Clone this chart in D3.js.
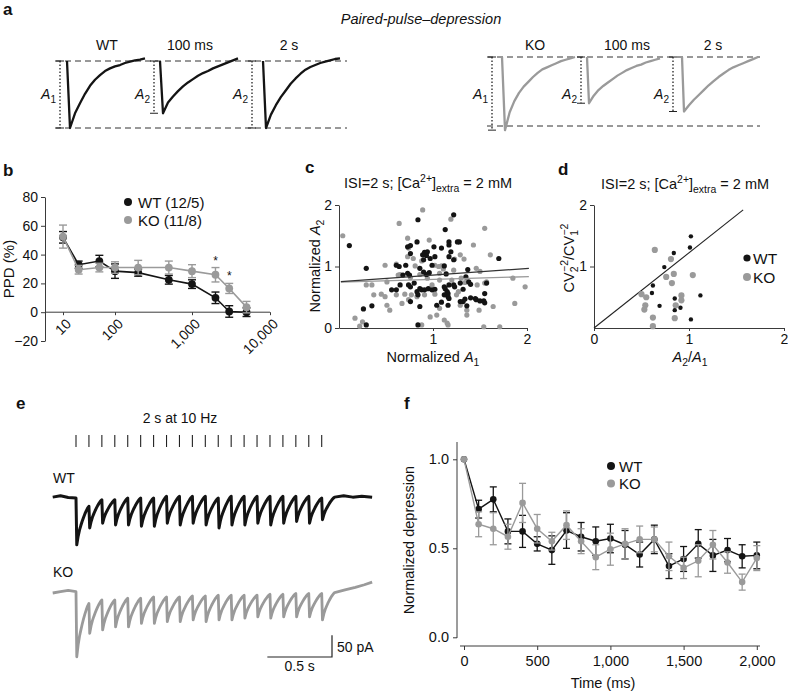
<!DOCTYPE html>
<html>
<head>
<meta charset="utf-8">
<script src="https://cdn.jsdelivr.net/npm/d3@7/dist/d3.min.js"></script>
<style>
  html,body{margin:0;padding:0;background:#fff;}
  svg{display:block;}
</style>
</head>
<body>
<svg id="fig" width="788" height="694"></svg>
<script>
// ================= DATA =================
// (a) paired-pulse EPSC traces, amplitude normalised to A1 (0 = baseline, -1 = A1 peak)
const aWT_A1    = [-1.0,-0.78,-0.63,-0.49,-0.37,-0.28,-0.21,-0.15,-0.11,-0.08,-0.06,-0.03,-0.01,0.01,0.02,0.04];
const aWT_A2100 = [-0.78,-0.62,-0.53,-0.45,-0.38,-0.32,-0.27,-0.22,-0.18,-0.15,-0.11,-0.08,-0.05,-0.02,0.01,0.04];
const aWT_A22s  = [-1.0,-0.80,-0.66,-0.54,-0.44,-0.34,-0.26,-0.19,-0.13,-0.09,-0.06,-0.03,-0.01,0.01,0.03,0.04];
const aKO_A1    = [-1.06,-0.80,-0.64,-0.52,-0.43,-0.36,-0.29,-0.23,-0.18,-0.15,-0.12,-0.09,-0.06,-0.04,-0.02,0.0];
const aKO_A2100 = [-0.67,-0.56,-0.48,-0.42,-0.37,-0.32,-0.27,-0.23,-0.19,-0.16,-0.13,-0.11,-0.08,-0.06,-0.04,-0.02];
const aKO_A22s  = [-0.79,-0.70,-0.62,-0.55,-0.48,-0.41,-0.35,-0.29,-0.24,-0.19,-0.15,-0.12,-0.09,-0.06,-0.03,0.0];
const aHeadWT = ["WT","100 ms","2 s"];
const aHeadKO = ["KO","100 ms","2 s"];

// (b) paired-pulse depression vs inter-stimulus interval
const ppdISI    = [10,20,50,100,200,500,1000,2000,3000,5000];
const ppdWT     = [52,33,35.5,28.5,27.5,22.5,19.5,10,0.5,0];
const ppdWTerr  = [4,2.5,4,5,2.5,3,3,4,4,3];
const ppdKO     = [52.5,29.5,31,31,31,31,28.5,26,16.5,3.5];
const ppdKOerr  = [8,3,3,4,5,4.5,4.5,5,3.5,4];
const ppdXTicks = [10,100,1000,10000];
const ppdYTicks = [-20,0,20,40,60,80];
const ppdStars  = [2000,3000];

// (c) normalized A2 vs normalized A1
const cWT = [[0.11,1.34],[0.84,1.76],[1.22,1.84],[1.13,1.60],[0.29,0.97],[0.26,0.31],[0.35,0.36],[0.29,0.05],[0.84,0.05],[0.61,1.02],
[0.64,1.00],[0.71,1.02],[0.73,0.89],[0.68,0.86],[0.75,0.86],[0.73,1.32],[0.76,1.34],[0.76,1.21],[0.83,1.40],[0.89,1.19],
[0.91,1.23],[0.93,1.18],[0.90,1.11],[0.94,1.24],[0.97,1.13],[1.01,1.32],[1.02,1.16],[0.99,1.02],[0.86,0.97],[0.90,0.91],
[0.93,0.87],[0.96,0.90],[1.12,1.01],[1.14,0.88],[1.09,1.30],[1.19,1.24],[1.17,1.35],[1.17,1.40],[1.17,1.16],[1.22,1.11],
[1.26,1.40],[1.28,1.40],[1.37,0.95],[1.35,0.83],[0.56,0.62],[0.65,0.70],[0.74,0.70],[0.76,0.67],[0.80,0.73],[0.83,0.59],
[0.84,0.54],[0.86,0.64],[0.88,0.62],[0.91,0.62],[0.95,0.64],[0.99,0.62],[1.02,0.63],[1.04,0.37],[1.09,0.42],[1.12,0.67],
[1.13,0.64],[1.15,0.59],[1.16,0.56],[1.16,0.51],[1.17,0.48],[1.12,0.54],[1.17,0.70],[1.22,0.70],[1.23,0.67],[1.29,0.73],
[1.32,0.63],[1.32,0.43],[1.34,0.47],[1.36,0.36],[1.40,0.49],[1.45,0.48],[1.46,0.46],[1.50,0.44],[1.54,0.44],[1.55,0.41],
[1.55,0.56],[1.57,0.73],[1.38,0.75],[1.40,0.71],[1.70,1.13],[0.61,0.62],[0.76,0.43],[0.86,0.35],[1.16,0.37],[1.29,0.43]];
const cKO = [[0.04,1.50],[0.17,0.16],[0.25,0.10],[0.22,0.03],[0.29,0.70],[0.35,0.70],[0.49,1.02],[0.51,0.37],[0.54,0.29],[0.64,1.70],
[0.70,0.55],[0.74,0.46],[0.76,0.82],[0.73,1.46],[0.74,1.30],[0.73,1.16],[0.79,1.13],[0.83,0.51],[0.89,1.92],[0.86,0.87],
[0.94,0.81],[0.96,1.43],[0.99,0.70],[1.02,0.55],[1.04,0.21],[1.12,0.13],[1.16,0.05],[1.19,1.77],[1.22,0.94],[1.20,0.78],
[1.07,0.78],[1.09,1.01],[1.07,0.89],[1.11,0.96],[1.25,0.54],[1.27,0.59],[1.30,0.81],[1.33,1.12],[1.34,0.74],[1.36,0.21],
[1.43,1.35],[1.47,0.70],[1.50,0.92],[1.49,0.29],[1.54,0.02],[1.55,0.73],[1.55,1.62],[1.61,1.19],[1.64,0.35],[1.71,0.02],
[1.85,0.81],[1.87,0.40],[0.81,1.01],[0.88,1.09],[1.02,1.02],[1.06,1.00],[1.29,1.19],[1.23,1.12],[0.63,0.86],[0.61,0.54],
[0.67,0.40],[0.77,0.54],[0.91,0.54],[0.88,0.05],[0.97,0.18],[1.07,0.32],[1.15,0.08],[1.36,0.29],[1.57,0.75],[0.61,1.04],
[0.65,0.87],[0.49,0.51],[1.46,0.97],[1.29,0.37],[1.98,0.67],[0.51,0.75],[0.37,0.54],[0.45,0.55]];
const cFitWT = [[0.02,0.755],[2.02,0.97]];
const cFitKO = [[0.02,0.745],[2.02,0.835]];
const cTicks = [0,1,2];

// (d) CV analysis
const dWT = [[1.02,1.49],[1.01,1.31],[0.84,1.22],[0.74,0.99],[0.62,0.69],[0.61,0.57],[1.12,0.53],[0.85,0.48],[0.69,0.36],[0.85,0.29],[0.91,0.33],[1.02,0.14]];
const dKO = [[0.64,1.27],[0.81,1.12],[0.76,0.83],[0.84,0.88],[0.82,0.73],[1.04,0.86],[0.50,0.55],[0.55,0.50],[0.54,0.37],[0.53,0.30],[0.92,0.53],[0.92,0.45],[0.86,0.37],[0.62,0.17],[0.85,0.16],[0.62,0.03]];
const dLine = [[0,0],[1.57,1.92]];

// (e) 2 s at 10 Hz train (time in s, current in pA)
const eStimS   = [0,0.1,0.2,0.3,0.4,0.5,0.6,0.7,0.8,0.9,1.0,1.1,1.2,1.3,1.4,1.5,1.6,1.7,1.8,1.9];
const eWTtop   = [0,-19,-4,-4,0,0,0,4,4,4,4,0,4,4,4,4,4,4,4,0];
const eWTpeak  = [-108,-69,-58,-62,-62,-65,-65,-58,-62,-58,-62,-69,-62,-62,-58,-62,-58,-54,-58,-50];
const eKOtop   = [0,-27,-19,-19,-15,-15,-12,-12,-12,-10,-10,-8,-8,-8,-8,-6,-6,-4,-4,-4];
const eKOpeak  = [-150,-96,-88,-81,-81,-73,-73,-69,-69,-65,-69,-65,-65,-61,-58,-61,-58,-58,-58,-65];
const eWTpre   = [[-0.18,2],[-0.12,5],[-0.06,1],[0,0]];
const eWTpost  = [[2.0,2],[2.07,5],[2.14,2],[2.21,4],[2.29,2]];
const eKOpre   = [[-0.18,-3],[-0.12,0],[-0.06,3],[0,0]];
const eKOpost  = [[2.0,-2],[2.08,4],[2.16,10],[2.23,16],[2.29,22]];
const eShape   = [1.0,0.78,0.62,0.5,0.39,0.29,0.2,0.12,0.05,0];  // EPSC recovery shape
const eBarS = 0.5, eBarPA = 50;

// (f) normalized depression during train
const fTime  = [0,100,200,300,400,500,600,700,800,900,1000,1100,1200,1300,1400,1500,1600,1700,1800,1900,2000];
const fWT    = [1.0,0.72,0.775,0.595,0.595,0.525,0.49,0.60,0.565,0.54,0.555,0.52,0.465,0.55,0.40,0.44,0.525,0.46,0.49,0.455,0.46];
const fWTerr = [0,0.05,0.07,0.07,0.09,0.04,0.08,0.10,0.08,0.08,0.08,0.08,0.07,0.08,0.07,0.07,0.08,0.09,0.065,0.065,0.075];
const fKO    = [1.0,0.635,0.61,0.565,0.755,0.61,0.54,0.63,0.54,0.45,0.495,0.525,0.55,0.55,0.455,0.39,0.43,0.52,0.42,0.31,0.445];
const fKOerr = [0,0.07,0.09,0.07,0.11,0.08,0.05,0.08,0.07,0.07,0.09,0.085,0.075,0.07,0.08,0.06,0.09,0.08,0.06,0.045,0.07];
const fXTicks = [0,500,1000,1500,2000];
const fYTicks = [0,0.5,1.0];

// ================= DRAWING =================
const svg = d3.select("#fig");
const FONT = '"Liberation Sans", Arial, Helvetica, sans-serif';
svg.attr("font-family", FONT);
const BLACK = "#141414", GRAY = "#9a9a9a", INK = "#111", AX = "#3a3a3a";

function text(g, x, y, s, o = {}) {
  const t = g.append("text").attr("x", x).attr("y", y).text(s)
    .attr("font-size", o.size || 14).attr("fill", o.fill || INK)
    .attr("text-anchor", o.anchor || "start");
  if (o.weight) t.attr("font-weight", o.weight);
  if (o.style) t.attr("font-style", o.style);
  if (o.transform) t.attr("transform", o.transform);
  return t;
}
function rich(g, x, y, parts, o = {}) {
  const size = o.size || 14;
  const t = g.append("text").attr("x", x).attr("y", y).attr("font-size", size)
    .attr("fill", INK).attr("text-anchor", o.anchor || "start");
  if (o.transform) t.attr("transform", o.transform);
  let shift = 0;
  parts.forEach(p => {
    const [s, type, dx] = p;
    const ts = t.append("tspan").text(s);
    let target = 0, fs = size;
    if (type === "sub") { target = size * 0.3; fs = size * 0.72; }
    else if (type === "sup") { target = -size * 0.42; fs = size * 0.72; }
    ts.attr("dy", target - shift).attr("font-size", fs);
    if (type === "i") ts.attr("font-style", "italic");
    if (dx) ts.attr("dx", dx);
    shift = target;
  });
  return t;
}
function styleAxis(g, size = 14) {
  g.attr("font-family", FONT).attr("font-size", size);
  g.selectAll("path.domain").attr("stroke", AX);
  g.selectAll(".tick line").attr("stroke", AX);
  g.selectAll(".tick text").attr("fill", INK);
}

// panel letters
[["a",3,15],["b",3,176],["c",305,173],["d",558,175],["e",16,409],["f",404,409]].forEach(([l,x,y]) =>
  text(svg, x, y, l, {size: 17, weight: "bold"}));

// ---------- (a) ----------
const gA = svg.append("g");
text(gA, 421, 24, "Paired-pulse\u2013depression", {size: 14.5, style: "italic", anchor: "middle"});
const aLayout = [
  {color: BLACK, yTop: 61, yBot: 128, xL: 55, xR: 347, heads: [107,190,289], headTexts: aHeadWT,
   traces: [{vals: aWT_A1, on: 67, x0: 70, x1: 145, dot: 60, lab: "1"},
            {vals: aWT_A2100, on: 160, x0: 163, x1: 238, dot: 154, lab: "2"},
            {vals: aWT_A22s, on: 263, x0: 266, x1: 340, dot: 252, lab: "2"}]},
  {color: GRAY, yTop: 57, yBot: 126, xL: 487, xR: 760, heads: [535,627,713], headTexts: aHeadKO,
   traces: [{vals: aKO_A1, on: 502, x0: 505, x1: 575, dot: 492, lab: "1"},
            {vals: aKO_A2100, on: 587, x0: 589, x1: 660, dot: 581, lab: "2"},
            {vals: aKO_A22s, on: 682, x0: 684, x1: 758, dot: 673, lab: "2"}]}
];
aLayout.forEach(G => {
  const y = d3.scaleLinear().domain([0, -1]).range([G.yTop, G.yBot]);
  [0, -1].forEach(v => gA.append("line").attr("x1", G.xL).attr("x2", G.xR).attr("y1", y(v)).attr("y2", y(v))
    .attr("stroke", "#333").attr("stroke-width", 1).attr("stroke-dasharray", "6,4"));
  G.traces.forEach(T => {
    const x = d3.scaleLinear().domain([0, T.vals.length - 1]).range([T.x0, T.x1]);
    const pts = [[T.on, y(0)]].concat(T.vals.map((v, i) => [x(i), y(v)]));
    gA.append("path").attr("d", d3.line()(pts)).attr("fill", "none").attr("stroke", G.color)
      .attr("stroke-width", 2.3).attr("stroke-linejoin", "round");
    const yp = y(T.vals[0]);
    gA.append("line").attr("x1", T.dot).attr("x2", T.dot).attr("y1", y(0)).attr("y2", yp)
      .attr("stroke", "#222").attr("stroke-width", 1.3).attr("stroke-dasharray", "1.5,2");
    [y(0), yp].forEach(yy => gA.append("line").attr("x1", T.dot - 4).attr("x2", T.dot + 4)
      .attr("y1", yy).attr("y2", yy).attr("stroke", "#222").attr("stroke-width", 1));
    rich(gA, T.dot - 4, 99, [["A", "i"], [T.lab, "sub"]], {anchor: "end", size: 14});
  });
  G.heads.forEach((hx, i) => text(gA, hx, 50, G.headTexts[i], {anchor: "middle"}));
});

// ---------- (b) ----------
const gB = svg.append("g");
const xB = d3.scaleLog().domain(ppdXTicks).range([63, 115, 192, 270]);
const yB = d3.scaleLinear().domain([-20, 80]).range([341, 197]);
const ayB = gB.append("g").attr("transform", "translate(45,0)")
  .call(d3.axisLeft(yB).tickValues(ppdYTicks).tickSize(4).tickSizeOuter(0).tickPadding(3)
    .tickFormat(d => d < 0 ? "\u2212" + (-d) : String(d)));
styleAxis(ayB);
gB.append("line").attr("x1", 45).attr("x2", 270).attr("y1", yB(0)).attr("y2", yB(0)).attr("stroke", AX);
const axB = gB.append("g").attr("transform", `translate(0,${yB(0)})`)
  .call(d3.axisBottom(xB).tickValues(ppdXTicks).tickSize(3).tickFormat(d3.format(",")));
axB.select("path.domain").remove();
styleAxis(axB);
axB.selectAll(".tick text").attr("x", 0).attr("y", 0).attr("dy", "0.35em").attr("text-anchor", "end")
  .attr("transform", "translate(5,9) rotate(-45)");
text(gB, 0, 0, "PPD (%)", {anchor: "middle", size: 15, transform: "translate(14,269) rotate(-90)"});

function seriesB(vals, errs, color) {
  const pts = ppdISI.map((t, i) => [xB(t), yB(vals[i])]);
  gB.append("path").attr("d", d3.line()(pts)).attr("fill", "none").attr("stroke", color).attr("stroke-width", 1.6);
  ppdISI.forEach((t, i) => {
    const x = xB(t), y1 = yB(vals[i] + errs[i]), y2 = yB(vals[i] - errs[i]);
    gB.append("line").attr("x1", x).attr("x2", x).attr("y1", y1).attr("y2", y2).attr("stroke", color).attr("stroke-width", 1.4);
    [y1, y2].forEach(yy => gB.append("line").attr("x1", x - 4).attr("x2", x + 4).attr("y1", yy).attr("y2", yy)
      .attr("stroke", color).attr("stroke-width", 1.4));
  });
  gB.selectAll(null).data(pts).enter().append("circle").attr("cx", d => d[0]).attr("cy", d => d[1])
    .attr("r", 3.9).attr("fill", color);
}
seriesB(ppdWT, ppdWTerr, BLACK);
seriesB(ppdKO, ppdKOerr, GRAY);
ppdStars.forEach(t => {
  const i = ppdISI.indexOf(t);
  text(gB, xB(t), yB(ppdKO[i] + ppdKOerr[i]) - 3, "*", {anchor: "middle", size: 12});
});
gB.append("circle").attr("cx", 128).attr("cy", 202).attr("r", 4).attr("fill", BLACK);
text(gB, 138, 207.5, "WT (12/5)", {size: 15});
gB.append("circle").attr("cx", 128).attr("cy", 220).attr("r", 4).attr("fill", GRAY);
text(gB, 138, 225.5, "KO (11/8)", {size: 15});

// ---------- (c) ----------
const gC = svg.append("g");
const xC = d3.scaleLinear().domain([0, 2]).range([339, 527]);
const yC = d3.scaleLinear().domain([0, 2]).range([328, 205]);
const ayC = gC.append("g").attr("transform", "translate(339,0)")
  .call(d3.axisLeft(yC).tickValues(cTicks).tickSize(4).tickSizeOuter(0).tickPadding(3).tickFormat(d3.format("d")));
styleAxis(ayC);
const axC = gC.append("g").attr("transform", "translate(0,328)")
  .call(d3.axisBottom(xC).tickValues([1, 2]).tickSize(3).tickSizeOuter(0).tickPadding(3).tickFormat(d3.format("d")));
styleAxis(axC);
rich(gC, 428, 188, [["ISI=2 s; [Ca", "n"], ["2+", "sup"], ["]", "n"], ["extra", "sub"], [" = 2 mM", "n"]], {anchor: "middle", size: 14.5});
rich(gC, 0, 0, [["Normalized ", "n"], ["A", "i"], ["2", "sub"]], {anchor: "middle", size: 14.5, transform: "translate(320,266) rotate(-90)"});
rich(gC, 433, 362, [["Normalized ", "n"], ["A", "i"], ["1", "sub"]], {anchor: "middle", size: 14.5});
gC.selectAll(null).data(cKO).enter().append("circle").attr("cx", d => xC(d[0])).attr("cy", d => yC(d[1])).attr("r", 2.6).attr("fill", GRAY);
gC.selectAll(null).data(cWT).enter().append("circle").attr("cx", d => xC(d[0])).attr("cy", d => yC(d[1])).attr("r", 2.6).attr("fill", BLACK);
const lineC = d3.line().x(d => xC(d[0])).y(d => yC(d[1]));
gC.append("path").attr("d", lineC(cFitKO)).attr("stroke", GRAY).attr("stroke-width", 1.3).attr("fill", "none");
gC.append("path").attr("d", lineC(cFitWT)).attr("stroke", "#333").attr("stroke-width", 1.3).attr("fill", "none");

// ---------- (d) ----------
const gD = svg.append("g");
const xD = d3.scaleLinear().domain([0, 2]).range([594, 784]);
const yD = d3.scaleLinear().domain([0, 2]).range([328, 205]);
const ayD = gD.append("g").attr("transform", "translate(594,0)")
  .call(d3.axisLeft(yD).tickValues([1, 2]).tickSize(4).tickSizeOuter(0).tickPadding(3).tickFormat(d3.format("d")));
styleAxis(ayD);
const axD = gD.append("g").attr("transform", "translate(0,328)")
  .call(d3.axisBottom(xD).tickValues([0, 1, 2]).tickSize(3).tickSizeOuter(0).tickPadding(3).tickFormat(d3.format("d")));
styleAxis(axD);
rich(gD, 685, 189, [["ISI=2 s; [Ca", "n"], ["2+", "sup"], ["]", "n"], ["extra", "sub"], [" = 2 mM", "n"]], {anchor: "middle", size: 14.5});
rich(gD, 0, 0, [["CV", "n"], ["2", "sub"], ["\u22122", "sup", -5.5], ["/CV", "n"], ["1", "sub"], ["\u22122", "sup", -5.5]],
  {anchor: "middle", size: 14.5, transform: "translate(574,258) rotate(-90)"});
rich(gD, 690, 362, [["A", "i"], ["2", "sub"], ["/", "n"], ["A", "i"], ["1", "sub"]], {anchor: "middle", size: 14.5});
const lineD = d3.line().x(d => xD(d[0])).y(d => yD(d[1]));
gD.append("path").attr("d", lineD(dLine)).attr("stroke", "#222").attr("stroke-width", 1.1).attr("fill", "none");
gD.selectAll(null).data(dKO).enter().append("circle").attr("cx", d => xD(d[0])).attr("cy", d => yD(d[1])).attr("r", 3.1).attr("fill", GRAY);
gD.selectAll(null).data(dWT).enter().append("circle").attr("cx", d => xD(d[0])).attr("cy", d => yD(d[1])).attr("r", 2.2).attr("fill", BLACK);
gD.append("circle").attr("cx", 747).attr("cy", 258).attr("r", 3.6).attr("fill", BLACK);
text(gD, 753, 264, "WT", {size: 15.5});
gD.append("circle").attr("cx", 747).attr("cy", 277).attr("r", 4).attr("fill", GRAY);
text(gD, 753, 283, "KO", {size: 15.5});

// ---------- (e) ----------
const gE = svg.append("g");
const xE = d3.scaleLinear().domain([0, 1.9]).range([76, 321.7]);
const yEWT = d3.scaleLinear().domain([0, -50]).range([498, 519.7]);
const yEKO = d3.scaleLinear().domain([0, -50]).range([591.7, 613.4]);
text(gE, 180, 423, "2 s at 10 Hz", {anchor: "middle", size: 14});
eStimS.forEach(t => gE.append("line").attr("x1", xE(t)).attr("x2", xE(t)).attr("y1", 435).attr("y2", 447)
  .attr("stroke", "#222").attr("stroke-width", 1.1));
text(gE, 53, 483, "WT", {size: 14});
text(gE, 53, 577, "KO", {size: 14});
function buildTrace(top, peak, pre, post) {
  const pts = pre.map(d => [d[0], d[1]]);
  eStimS.forEach((t, i) => {
    const last = i === eStimS.length - 1;
    const next = last ? post[0][1] : top[i + 1];
    const tEnd = last ? post[0][0] : eStimS[i + 1];
    const tPk = t + 0.006;
    pts.push([t, top[i]]);
    eShape.forEach((f, k) => {
      pts.push([tPk + (tEnd - tPk) * k / (eShape.length - 1), next + (peak[i] - next) * f]);
    });
  });
  post.slice(1).forEach(d => pts.push(d));
  return pts;
}
gE.append("path").attr("d", d3.line().x(d => xE(d[0])).y(d => yEWT(d[1]))(buildTrace(eWTtop, eWTpeak, eWTpre, eWTpost)))
  .attr("fill", "none").attr("stroke", BLACK).attr("stroke-width", 3.0).attr("stroke-linejoin", "round");
gE.append("path").attr("d", d3.line().x(d => xE(d[0])).y(d => yEKO(d[1]))(buildTrace(eKOtop, eKOpeak, eKOpre, eKOpost)))
  .attr("fill", "none").attr("stroke", GRAY).attr("stroke-width", 2.8).attr("stroke-linejoin", "round");
// scale bar
const sbX = 332, sbY = 657;
const sbW = xE(eBarS) - xE(0), sbH = yEKO(-eBarPA) - yEKO(0);
gE.append("path").attr("d", `M${sbX - sbW},${sbY}H${sbX}V${sbY - sbH}`).attr("fill", "none")
  .attr("stroke", "#222").attr("stroke-width", 1.2);
text(gE, sbX + 5, sbY - 5, "50 pA", {size: 14});
text(gE, sbX - sbW / 2, 671, "0.5 s", {size: 14, anchor: "middle"});

// ---------- (f) ----------
const gF = svg.append("g");
const xF = d3.scaleLinear().domain([0, 2000]).range([464, 756.8]);
const yF = d3.scaleLinear().domain([0, 1]).range([637.3, 459.3]);
gF.append("line").attr("x1", 457).attr("x2", 457).attr("y1", 442).attr("y2", 638).attr("stroke", AX);
gF.append("line").attr("x1", 460).attr("x2", 760).attr("y1", 646).attr("y2", 646).attr("stroke", AX);
const ayF = gF.append("g").attr("transform", "translate(457,0)")
  .call(d3.axisLeft(yF).tickValues(fYTicks).tickSize(4).tickPadding(4).tickFormat(d3.format(".1f")));
ayF.select("path.domain").remove(); styleAxis(ayF, 14.5);
const axF = gF.append("g").attr("transform", "translate(0,646)")
  .call(d3.axisBottom(xF).tickValues(fXTicks).tickSize(4).tickPadding(6).tickFormat(d3.format(",")));
axF.select("path.domain").remove(); styleAxis(axF, 14.5);
text(gF, 603, 688, "Time (ms)", {anchor: "middle", size: 14.5});
text(gF, 0, 0, "Normalized depression", {anchor: "middle", size: 14.5, transform: "translate(414,540) rotate(-90)"});
function seriesF(vals, errs, color) {
  const pts = fTime.map((t, i) => [xF(t), yF(vals[i])]);
  gF.append("path").attr("d", d3.line()(pts)).attr("fill", "none").attr("stroke", color).attr("stroke-width", 1.4);
  fTime.forEach((t, i) => {
    if (!errs[i]) return;
    const x = xF(t), y1 = yF(vals[i] + errs[i]), y2 = yF(vals[i] - errs[i]);
    gF.append("line").attr("x1", x).attr("x2", x).attr("y1", y1).attr("y2", y2).attr("stroke", color).attr("stroke-width", 1.3);
    [y1, y2].forEach(yy => gF.append("line").attr("x1", x - 3.5).attr("x2", x + 3.5).attr("y1", yy).attr("y2", yy)
      .attr("stroke", color).attr("stroke-width", 1.3));
  });
  gF.selectAll(null).data(pts).enter().append("circle").attr("cx", d => d[0]).attr("cy", d => d[1])
    .attr("r", 3.3).attr("fill", color);
}
seriesF(fWT, fWTerr, BLACK);
seriesF(fKO, fKOerr, GRAY);
gF.append("circle").attr("cx", 611).attr("cy", 466).attr("r", 4).attr("fill", BLACK);
text(gF, 619, 471.5, "WT", {size: 15});
gF.append("circle").attr("cx", 611).attr("cy", 483.5).attr("r", 4).attr("fill", GRAY);
text(gF, 619, 489, "KO", {size: 15});
</script>
</body>
</html>
